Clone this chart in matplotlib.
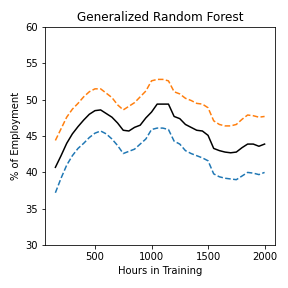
import matplotlib
matplotlib.use("Agg")
import matplotlib.pyplot as plt
import numpy as np

# Datos
hours = np.arange(150, 2001, 50)
mid = [40.7, 42.3, 44.0, 45.3, 46.3, 47.2, 48.0, 48.5, 48.6, 48.1,
       47.6, 46.8, 45.8, 45.7, 46.2, 46.5, 47.5, 48.3, 49.4, 49.4,
       49.4, 47.7, 47.4, 46.6, 46.2, 45.8, 45.7, 45.1, 43.3, 43.0,
       42.8, 42.7, 42.8, 43.4, 43.9, 43.9, 43.6, 43.9]
upper = [44.4, 46.0, 47.6, 48.7, 49.5, 50.4, 51.1, 51.5, 51.5, 50.9,
         50.3, 49.3, 48.6, 49.1, 49.6, 50.4, 51.2, 52.6, 52.8, 52.8,
         52.6, 51.1, 50.8, 50.2, 49.9, 49.5, 49.4, 48.9, 47.1, 46.6,
         46.4, 46.4, 46.6, 47.3, 47.9, 47.8, 47.6, 47.7]
lower = [37.2, 39.2, 41.0, 42.3, 43.3, 44.0, 44.8, 45.4, 45.7, 45.3,
         44.6, 43.7, 42.6, 42.9, 43.2, 43.9, 44.6, 45.9, 46.1, 46.1,
         45.9, 44.3, 43.9, 43.0, 42.6, 42.3, 42.0, 41.6, 39.8, 39.4,
         39.2, 39.1, 39.0, 39.5, 40.0, 39.9, 39.7, 40.0]

fig, ax = plt.subplots(figsize=(4, 4), dpi=72)
fig.subplots_adjust(left=0.156, right=0.955, top=0.906, bottom=0.149)

ax.plot(hours, mid, color='black')
ax.plot(hours, upper, '--', color='C1')
ax.plot(hours, lower, '--', color='C0')

ax.set_ylim(30, 60)
ax.set_xticks([500, 1000, 1500, 2000])
ax.set_xlabel("Hours in Training")
ax.set_ylabel("% of Employment")
ax.set_title("Generalized Random Forest")

fig.savefig("out.png", dpi=72)
